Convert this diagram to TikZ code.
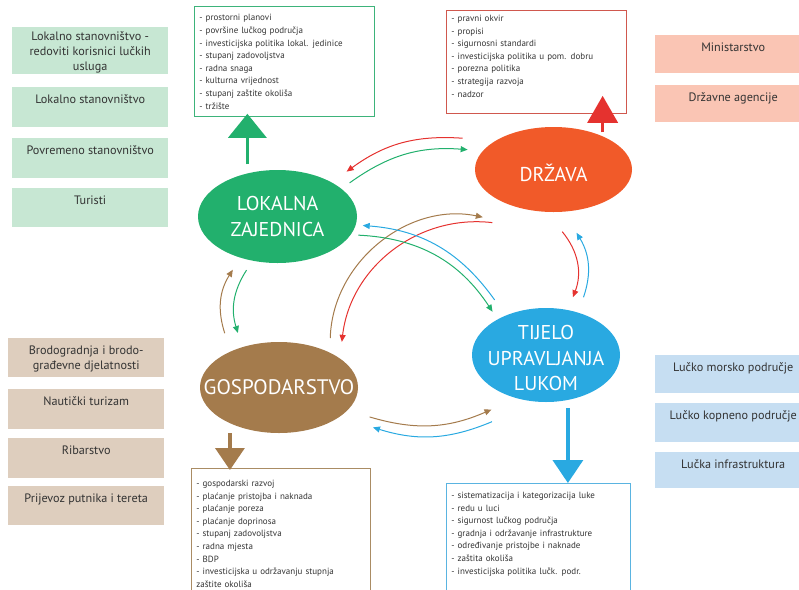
\documentclass[tikz,border=0pt]{standalone}
\usepackage{fontspec}
\setmainfont{PT Sans}
\usetikzlibrary{shapes.geometric,arrows.meta,calc}

\definecolor{zelena}{HTML}{22B06D}
\definecolor{narancasta}{HTML}{F15A29}
\definecolor{smeda}{HTML}{A47B4C}
\definecolor{plava}{HTML}{29A9E1}
\definecolor{crvena}{HTML}{E5322F}
\definecolor{zelenasv}{HTML}{C7E7D3}
\definecolor{rozasv}{HTML}{FAC5B4}
\definecolor{smedasv}{HTML}{DECEBE}
\definecolor{plavasv}{HTML}{C6DEF2}
\definecolor{rubzel}{HTML}{3DB37A}
\definecolor{rubcrv}{HTML}{D0584E}
\definecolor{rubsme}{HTML}{AA8C64}
\definecolor{rubpla}{HTML}{5AB4E1}
\definecolor{tekst}{HTML}{333333}

\begin{document}
\begin{tikzpicture}[x=1pt,y=-1pt,
    side/.style={fill=#1, anchor=north west, minimum width=156pt, inner sep=0pt,
      align=center, text=tekst, font=\fontsize{12.2}{15}\selectfont,
      text height=16pt, text depth=23pt},
    list/.style={draw=#1, line width=0.8pt, anchor=north west, inner xsep=5pt,
      inner ysep=0pt, align=left, text=tekst, font=\fontsize{9}{12.6}\selectfont},
    ell/.style={ellipse, fill=#1, inner sep=0pt, outer sep=0pt},
    elltext/.style={text=white, align=center, font=\fontsize{20}{25.5}\selectfont},
    veza/.style={draw=#1, line width=1pt, -{Triangle[length=7pt,width=6pt]}}]

  \useasboundingbox (0,0) rectangle (799,589);

  % lijevi i desni okviri
  \node[side=zelenasv, text height=43pt, text depth=4pt] (z1) at (12,27)
    {Lokalno stanovništvo -\\redoviti korisnici lučkih\\usluga};
  \node[side=zelenasv, text depth=24pt] (z2) at (12,87)  {Lokalno stanovništvo};
  \node[side=zelenasv, text depth=24pt] (z3) at (12,138) {Povremeno stanovništvo};
  \node[side=zelenasv] (z4) at (12,188) {Turisti};

  \node[side=rozasv, text depth=22pt] (r1) at (655,35) {Ministarstvo};
  \node[side=rozasv, text depth=21pt] (r2) at (655,85) {Državne agencije};

  \node[side=smedasv, text height=31.5pt, text depth=7.5pt] (s1) at (8,338)
    {Brodogradnja i brodo-\\građevne djelatnosti};
  \node[side=smedasv, text depth=24pt] (s2) at (8,389) {Nautički turizam};
  \node[side=smedasv, text depth=24pt] (s3) at (8,438) {Ribarstvo};
  \node[side=smedasv] (s4) at (8,486) {Prijevoz putnika i tereta};

  \node[side=plavasv, text depth=22pt] (p1) at (655,355) {Lučko morsko područje};
  \node[side=plavasv] (p2) at (655,403) {Lučko kopneno područje};
  \node[side=plavasv, text depth=20pt] (p3) at (655,452) {Lučka infrastruktura};

  % popisi
  \node[list=rubzel, text width=170pt, text height=14.5pt, text depth=95.5pt] (lzl) at (194,6)
    {- prostorni planovi\\- površine lučkog područja\\- investicijska politika lokal. jedinice\\
     - stupanj zadovoljstva\\- radna snaga\\- kulturna vrijednost\\- stupanj zaštite okoliša\\- tržište};
  \node[list=rubcrv, text width=170pt, text height=11pt, text depth=92pt] (drl) at (446,10)
    {- pravni okvir\\- propisi\\- sigurnosni standardi\\- investicijska politika u pom. dobru\\
     - porezna politika\\- strategija razvoja\\- nadzor};
  \node[list=rubsme, text width=169pt, text height=18pt, text depth=130pt] (gol) at (191,468)
    {- gospodarski razvoj\\- plaćanje pristojba i naknada\\- plaćanje poreza\\- plaćanje doprinosa\\
     - stupanj zadovoljstva\\- radna mjesta\\- BDP\\- investicijska u održavanju stupnja\\zaštite okoliša};
  \node[list=rubpla, text width=174pt, text height=15pt, text depth=125pt] (tul) at (446,483)
    {- sistematizacija i kategorizacija luke\\- redu u luci\\- sigurnost lučkog područja\\
     - gradnja i održavanje infrastrukture\\- određivanje pristojbe i naknade\\- zaštita okoliša\\
     - investicijska politika lučk. podr.};

  % dionici
  \node[ell=zelena, minimum width=159pt, minimum height=93pt] (lz) at (277.5,216.5) {};
  \node[ell=narancasta, minimum width=157pt, minimum height=85pt] (dr) at (553.5,169.5) {};
  \node[ell=smeda, minimum width=158pt, minimum height=91pt] (go) at (279,387.5) {};
  \node[ell=plava, minimum width=148pt, minimum height=94pt] (tu) at (546,355) {};

  \node[elltext] (lz-t) at (lz) {LOKALNA\\ZAJEDNICA};
  \node[elltext, yshift=-3pt] (dr-t) at (dr) {DRŽAVA};
  \node[elltext, font=\fontsize{21}{25}\selectfont] (go-t) at (go) {GOSPODARSTVO};
  \node[elltext, yshift=-3pt] (tu-t) at (tu) {TIJELO\\UPRAVLJANJA\\LUKOM};

  % velike strelice
  \draw[zelena, line width=3.5pt, shorten <=9pt, shorten >=-3pt,
    -{Triangle[length=24pt,width=38pt]}] (lz.125) -- (lz.125 |- lzl.south);
  \draw[crvena, line width=3.5pt, shorten <=4pt, shorten >=-18pt,
    -{Triangle[length=27pt,width=30pt]}] (dr.34) -- (dr.34 |- drl.south);
  \draw[smeda, line width=3.5pt, shorten <=10pt, shorten >=-2pt,
    -{Triangle[length=22pt,width=29pt]}] (go.216) -- (go.216 |- gol.north);
  \draw[plava, line width=3.5pt, shorten <=8pt,
    -{Triangle[length=23pt,width=30pt]}] (tu.296) -- (tu.296 |- tul.north);

  % veze
  \path ($(dr.161)!-26pt!(dr.center)$) edge[veza=crvena, bend right=20] ($(lz.33)!-19pt!(lz.center)$);
  \path ($(lz.25)!-11pt!(lz.center)$)  edge[veza=zelena, bend left=20]  ($(dr.167)!-14pt!(dr.center)$);
  \path ($(go.44)!-15pt!(go.center)$)  edge[veza=smeda, bend left=50]   ($(dr.214)!-26pt!(dr.center)$);
  \path ($(dr.221)!-26pt!(dr.center)$) edge[veza=crvena, bend right=45] ($(go.36)!-17pt!(go.center)$);
  \path ($(tu.133)!-20pt!(tu.center)$) edge[veza=plava, bend right=25]  ($(lz.354)!-7pt!(lz.center)$);
  \path ($(lz.347)!-7pt!(lz.center)$)  edge[veza=zelena, bend left=27]  ($(tu.141)!-10pt!(tu.center)$);
  \path ($(go.135)!-21pt!(go.center)$) edge[veza=smeda, bend left=25]   ($(lz.230)!-15pt!(lz.center)$);
  \path ($(lz.240)!-11pt!(lz.center)$) edge[veza=zelena, bend right=25] ($(go.127)!-16pt!(go.center)$);
  \path ($(dr.278)!-20pt!(dr.center)$) edge[veza=crvena, bend left=30]  ($(tu.65)!-14pt!(tu.center)$);
  \path ($(tu.57)!-17pt!(tu.center)$)  edge[veza=plava, bend right=25]  ($(dr.290)!-23pt!(dr.center)$);
  \path ($(go.342)!-23pt!(go.center)$) edge[veza=smeda, bend right=20]  ($(tu.225)!-21pt!(tu.center)$);
  \path ($(tu.231)!-32pt!(tu.center)$) edge[veza=plava, bend left=20]   ($(go.337)!-33pt!(go.center)$);

\end{tikzpicture}
\end{document}
